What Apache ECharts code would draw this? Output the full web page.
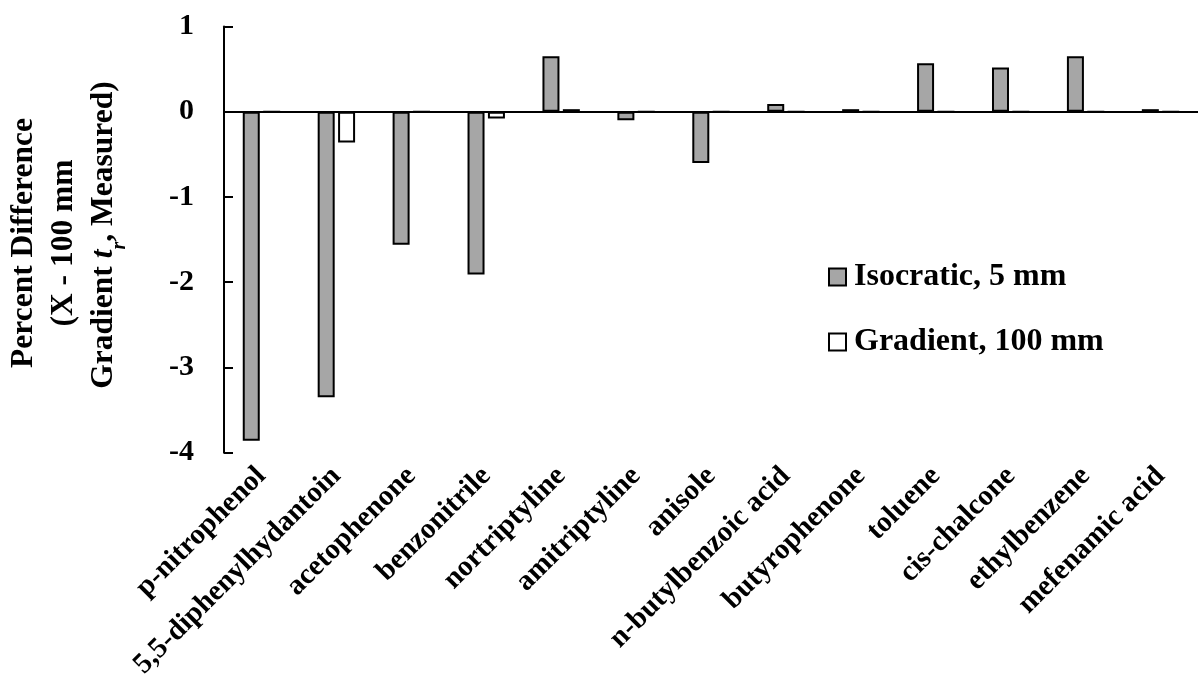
<!DOCTYPE html>
<html>
<head>
<meta charset="utf-8">
<script src="https://cdn.jsdelivr.net/npm/echarts@6/dist/echarts.min.js"></script>
<style>
html,body{margin:0;padding:0;background:#fff;}
#chart{width:1198px;height:692px;}
</style>
</head>
<body>
<div id="chart"></div>
<script>
const categories = ['p-nitrophenol','5,5-diphenylhydantoin','acetophenone','benzonitrile','nortriptyline','amitriptyline','anisole','n-butylbenzoic acid','butyrophenone','toluene','cis-chalcone','ethylbenzene','mefenamic acid'];
const isocratic5mm = [-3.86,-3.35,-1.56,-1.91,0.65,-0.10,-0.60,0.09,0.03,0.57,0.52,0.65,0.03];
const gradient100mm = [0,-0.36,0,-0.08,0.03,0,0,0,0,0,0,0,0];
const seriesNames = ['Isocratic, 5 mm','Gradient, 100 mm'];
const yTicks = {min:-4, max:1, interval:1};

const FONT = '"Liberation Serif","Times New Roman",serif';
const chart = echarts.init(document.getElementById('chart'));
chart.setOption({
  animation:false,
  backgroundColor:'#fff',
  grid:{left:224, right:-11, top:26.5, bottom:239.3, containLabel:false},
  legend:{
    orient:'vertical', left:823, top:256, itemGap:33,
    itemWidth:17, itemHeight:17, icon:'rect',
    textStyle:{fontFamily:FONT, fontWeight:'bold', fontSize:32, color:'#000', padding:[0,0,0,3]},
    data:seriesNames
  },
  xAxis:[
    {type:'category', data:categories, axisLine:{onZero:true, lineStyle:{color:'#000', width:2}},
     axisTick:{show:false}, axisLabel:{show:false}},
    {type:'category', data:categories, position:'bottom', axisLine:{show:false, onZero:false},
     axisTick:{show:false},
     axisLabel:{rotate:45, margin:19, interval:0, fontFamily:FONT, fontWeight:'bold', fontSize:29, color:'#000'}}
  ],
  yAxis:{
    type:'value', min:yTicks.min, max:yTicks.max, interval:yTicks.interval,
    axisLine:{show:true, lineStyle:{color:'#000', width:2}},
    axisTick:{show:true, inside:true, length:9, lineStyle:{color:'#000', width:2}},
    splitLine:{show:false},
    axisLabel:{margin:30, fontFamily:FONT, fontWeight:'bold', fontSize:30, color:'#000'}
  },
  graphic:[{
    type:'text', x:64, y:243, rotation:Math.PI/2,
    style:{
      text:'{a|Percent Difference}\n{a|(X - 100 mm}\n{g|Gradient }{i|t}{s|r}{a|, Measured)}',
      align:'center', verticalAlign:'middle', fill:'#000',
      rich:{
        a:{fontFamily:FONT, fontWeight:'bold', fontSize:31.5, lineHeight:40, fill:'#000'},
        g:{fontFamily:FONT, fontWeight:'bold', fontSize:31.5, lineHeight:40, fill:'#000', padding:[0,0,0,16]},
        i:{fontFamily:FONT, fontWeight:'bold', fontStyle:'italic', fontSize:31.5, lineHeight:40, fill:'#000'},
        s:{fontFamily:FONT, fontWeight:'bold', fontStyle:'italic', fontSize:20, lineHeight:40, verticalAlign:'bottom', padding:[0,0,-6,0], fill:'#000'}
      }
    }
  }],
  series:[
    {name:seriesNames[0], type:'bar', data:isocratic5mm, xAxisIndex:0, barWidth:17, barGap:'20%',
     itemStyle:{color:'#a6a6a6', borderColor:'#000', borderWidth:2}},
    {name:seriesNames[1], type:'bar', data:gradient100mm, xAxisIndex:0, barWidth:17, barGap:'20%',
     itemStyle:{color:'#ffffff', borderColor:'#000', borderWidth:2}}
  ]
});
</script>
</body>
</html>
